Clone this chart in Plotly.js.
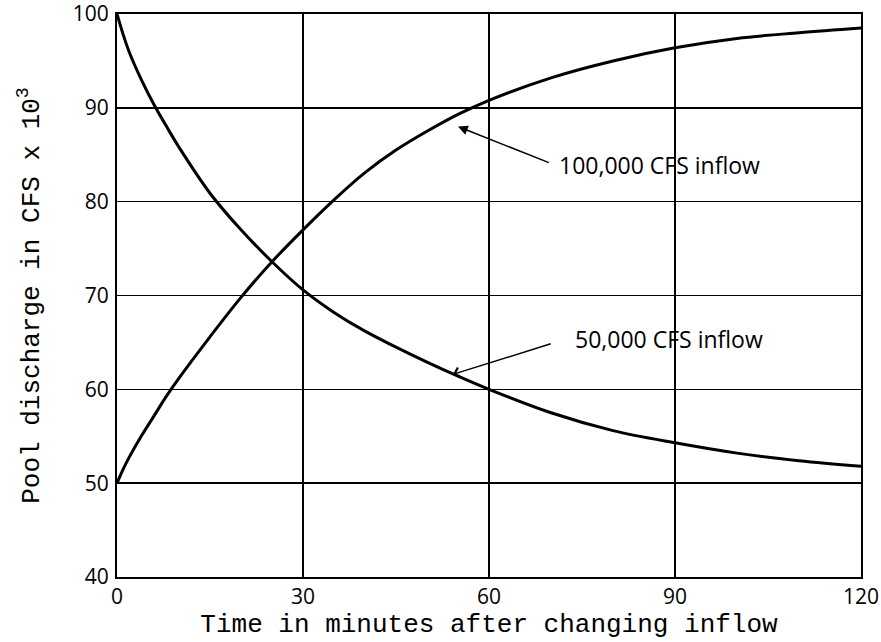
<!DOCTYPE html>
<html>
<head>
<meta charset="utf-8">
<script src="https://cdn.plot.ly/plotly-3.0.1.min.js"></script>
<style>
  html, body { margin: 0; padding: 0; background: #fff; }
  #chart { width: 881px; height: 642px; }
</style>
</head>
<body>
<div id="chart"></div>
<script>
// Time in minutes after changing inflow
const timeMin = [0, 1, 2, 4, 6, 8, 10, 15, 20, 25, 30, 35, 40, 45, 50, 55, 60, 70, 80, 90, 100, 110, 120];
// Pool discharge (CFS x 10^3) for 50,000 CFS inflow
const discharge50k = [100, 97.8, 95.9, 92.9, 90.3, 88, 85.8, 80.9, 77, 73.6, 70.6, 68.2, 66.2, 64.5, 62.9, 61.4, 60, 57.5, 55.6, 54.3, 53.2, 52.4, 51.8];
// Pool discharge (CFS x 10^3) for 100,000 CFS inflow
const discharge100k = [50, 51.5, 52.8, 55.1, 57.2, 59.3, 61.2, 65.6, 69.8, 73.6, 77, 80.2, 83.1, 85.5, 87.5, 89.3, 90.8, 93.2, 95, 96.4, 97.4, 98, 98.5];

const xTickVals = [0, 30, 60, 90, 120];
const xTickText = ['0', '30', '60', '90', '120'];
const yTickVals = [40, 50, 60, 70, 80, 90, 100];
const yTickText = ['40', '50', '60', '70', '80', '90', '100'];

const label100k = '100,000 CFS inflow';
const label50k = '50,000 CFS inflow';

const lineStyle = { color: '#000', width: 3, shape: 'spline', smoothing: 1 };

const traces = [
  { x: timeMin, y: discharge50k, mode: 'lines', line: lineStyle, name: label50k, hoverinfo: 'skip', cliponaxis: false },
  { x: timeMin, y: discharge100k, mode: 'lines', line: lineStyle, name: label100k, hoverinfo: 'skip', cliponaxis: false }
];

const tickFont = { family: 'Open Sans, Lato, sans-serif', size: 21, color: '#000' };
const monoFont = { family: 'Liberation Mono, DejaVu Sans Mono, monospace', size: 26, color: '#000' };
const annFont = { family: 'Open Sans, Lato, sans-serif', size: 23, color: '#000' };

const layout = {
  width: 881, height: 642,
  margin: { l: 117, r: 20, t: 14, b: 65 },
  paper_bgcolor: '#fff', plot_bgcolor: '#fff',
  showlegend: false,
  xaxis: {
    range: [0, 120], tickvals: xTickVals, ticktext: xTickText,
    showgrid: true, gridcolor: '#000', gridwidth: 1.5,
    showline: true, linecolor: '#000', linewidth: 2, mirror: true,
    zeroline: false, ticks: '', tickfont: tickFont, ticklabelstandoff: 0,
    ticklabeloverflow: 'allow',
    title: { text: 'Time in minutes after changing inflow', font: monoFont, standoff: 0 }
  },
  yaxis: {
    range: [40, 100], tickvals: yTickVals, ticktext: yTickText,
    showgrid: true, gridcolor: '#000', gridwidth: 1.5,
    showline: true, linecolor: '#000', linewidth: 2, mirror: true,
    zeroline: false, ticks: '', tickfont: tickFont, ticklabelstandoff: 2,
    ticklabeloverflow: 'allow',
    title: { text: 'Pool discharge in CFS x 10<sup>3</sup>', font: monoFont, standoff: 26 }
  },
  annotations: [
    { x: 55, y: 88, ax: 69.9, ay: 84.1, xref: 'x', yref: 'y', axref: 'x', ayref: 'y',
      text: '', showarrow: true, arrowhead: 2, arrowsize: 1.3, arrowwidth: 1.5, arrowcolor: '#000' },
    { x: 71, y: 83.9, xref: 'x', yref: 'y', text: label100k, showarrow: false,
      xanchor: 'left', yanchor: 'middle', font: annFont },
    { x: 54.2, y: 61.6, ax: 70.2, ay: 64.9, xref: 'x', yref: 'y', axref: 'x', ayref: 'y',
      text: '', showarrow: true, arrowhead: 4, arrowsize: 1.3, arrowwidth: 1.5, arrowcolor: '#000' },
    { x: 73.6, y: 65.4, xref: 'x', yref: 'y', text: label50k, showarrow: false,
      xanchor: 'left', yanchor: 'middle', font: annFont }
  ]
};

Plotly.newPlot('chart', traces, layout, { displayModeBar: false, staticPlot: true });
</script>
</body>
</html>
